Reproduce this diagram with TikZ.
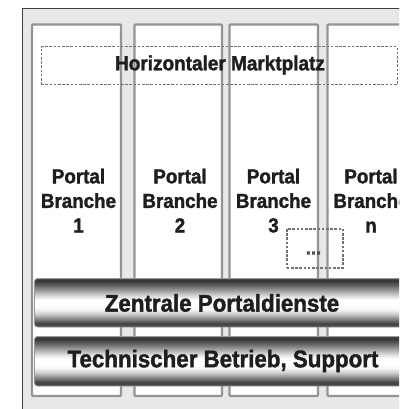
\documentclass[tikz,border=0pt]{standalone}
\usepackage{fontspec}
\setmainfont[BoldFeatures={FakeBold=1.6,FakeStretch=0.93}]{Liberation Sans}
\definecolor{bgc}{HTML}{E8E8E8}
\definecolor{inkc}{HTML}{1E1E1E}
\pgfdeclareverticalshading{barshade}{100bp}{
  color(0bp)=(black!72);
  color(25bp)=(black!72);
  color(29bp)=(black!72);
  color(33bp)=(black!50);
  color(38bp)=(black!22);
  color(43bp)=(black!4);
  color(47bp)=(white);
  color(53bp)=(white);
  color(58bp)=(black!18);
  color(63bp)=(black!40);
  color(68bp)=(black!62);
  color(73bp)=(black!80);
  color(75bp)=(black!70);
  color(100bp)=(black!70)}
\tikzset{
  every node/.style={font=\bfseries, text=inkc, inner sep=0pt},
  frameline/.style={draw=black!75, line width=1.4pt, fill=bgc},
  colbox/.style={draw=black!42, line width=2.4pt, fill=white, rounded corners=1pt},
  dashbox/.style={draw=black!55, line width=1.5pt, dash pattern=on 2.6pt off 1.6pt},
  barbox/.style={rounded corners=3pt, shading=barshade, draw=black!40, line width=.8pt},
  coltext/.style={font=\fontsize{20.2}{24.5}\selectfont\bfseries, align=center, anchor=north},
  bartext/.style={font=\fontsize{24}{26}\selectfont\bfseries},
  toptext/.style={font=\fontsize{20.4}{22}\selectfont\bfseries}
}
\begin{document}
\begin{tikzpicture}[x=1pt,y=-1pt]
\useasboundingbox (0,0) rectangle (399,409);
\clip (0,0) rectangle (399,409);
\fill[white] (0,0) rectangle (399,409);
\path[frameline] (22.5,8.5) rectangle (420,430);
% columns
\path[colbox] (32,24.5) rectangle (121,396);
\path[colbox] (134.5,24.5) rectangle (222,396);
\path[colbox] (229.5,24.5) rectangle (318,396);
\path[colbox] (327.5,24.5) rectangle (430,396);
% dashed market place
\node[dashbox, minimum width=356pt, minimum height=38pt, anchor=north west] (markt) at (40.5,46) {};
\node[toptext] (markttext) at (220,65) {Horizontaler Marktplatz};
% column labels
\node[coltext] (p1) at (78.5,168.5) {Portal\\Branche\\1};
\node[coltext] (p2) at (180,168.5) {Portal\\Branche\\2};
\node[coltext] (p3) at (273.5,168.5) {Portal\\Branche\\3};
\node[coltext] (p4) at (371,168.5) {Portal\\Branche\\n};
% dots box
\node[dashbox, minimum width=56pt, minimum height=39pt, anchor=north west] (dots) at (286,228) {};
\node[font=\fontsize{20}{20}\selectfont\bfseries, text=black!70] (dotstext) at (313.5,253) {...};
% bars
\path[barbox] (34.5,278.5) rectangle (430,327);
\path[barbox] (34.5,336.5) rectangle (430,386);
\node[bartext] (zentral) at (222,303) {Zentrale Portaldienste};
\node[bartext] (betrieb) at (223,361) {Technischer Betrieb, Support};
\end{tikzpicture}
\end{document}
